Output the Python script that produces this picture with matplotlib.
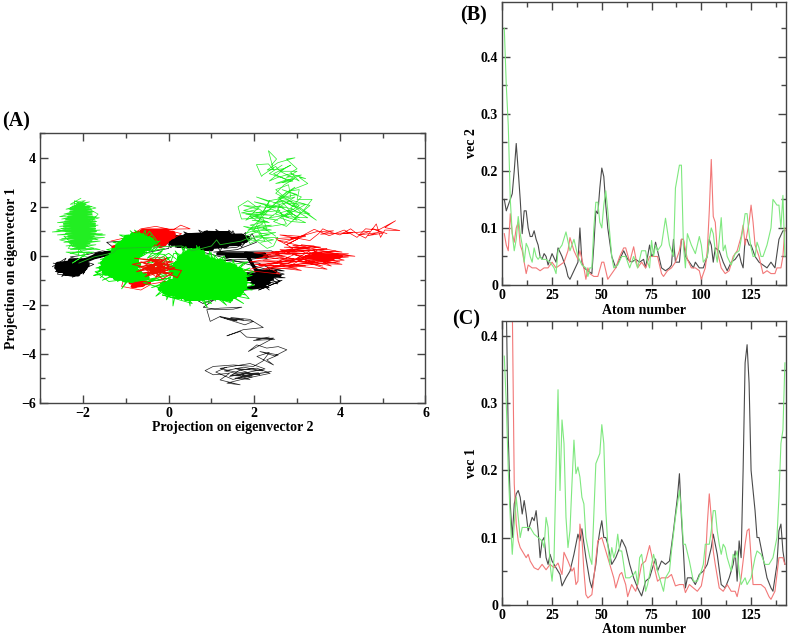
import numpy as np
import matplotlib
matplotlib.use('Agg')
import matplotlib.pyplot as plt
from matplotlib.ticker import MultipleLocator

plt.rcParams['font.family'] = ['Liberation Serif', 'DejaVu Serif']
plt.rcParams['font.weight'] = 'bold'
plt.rcParams['axes.labelweight'] = 'bold'

# panel A, projections (x = eigenvector 2, y = eigenvector 1)
black_core = [[-2.3,-.2],[-1.95,-.22],[-2.6,-.35],[-1.9,-.38],[-2.62,-.48],[-1.95,-.5],[-2.58,-.6],[-2.02,-.62],[-2.42,-.72],[-2.12,-.75],
              [-1.95,-.2],[-1.75,-.05],[-1.4,.1],[-1.7,.02],[-1.25,.12]]
black_core_top = [[.85,.92],[1.4,.9],[.4,.82],[1.72,.8],[.15,.72],[1.85,.72],[.02,.62],[1.8,.62],[.05,.52],[1.65,.5],[.2,.42],[1.35,.42],[.6,.32],[1.0,.28]]
black_core_right = [[1.15,.08],[2.25,.06],[1.35,-.02],[2.3,-.04],[1.8,.1],
                    [2.05,-.62],[2.5,-.65],[1.85,-.8],[2.6,-.8],[1.82,-.95],[2.42,-.95],[1.95,-1.1],[2.35,-1.1],[2.05,-1.22],[2.25,-1.25],
                    [.6,-1.6],[.95,-1.65],[.7,-1.5]]
black_thin = [[-2.72,-.45],[-2.4,-.1],[-2.6,-.75],[-2.2,-.85],[-2,-.55],[-1.75,-.35],[-2.3,-.05],[-1.9,.05],[-1.55,.2],[-1.1,.08],
              [-1.45,.55],[-.95,.62],[-.7,.3],[-.6,.1],[0,.3],[.05,.7],[.5,.92],[.15,.35],[.9,1.03],[1.2,.2],[1.5,1.02],[1.7,.35],
              [1.95,.9],[2.05,.55],[1.6,.25],[1.05,.15],[2.4,.2],[2.6,.02],[1.9,-.15],[1.2,-.18],[2.1,-.3],[2.35,-.5],[2.7,-.62],
              [2.2,-.6],[2.6,-1.05],[2.1,-1.4],[2.65,-1.0],[1.75,-1.3],[2.35,-1.3],[1.75,-.85],[2.3,-.6],[1.7,-.7],[1.3,-1.5],
              [.9,-1.8],[.55,-1.75],[.4,-1.55],[.8,-1.95],[1.1,-1.75],[.81,-2.1]]
black_fringe = [[-2.7,-.3],[-2.2,-.5],[-2.65,-.65],[-2.3,-.3],[-2.5,-.85],[-2.1,-.4],[-2.25,-.88],[-1.95,-.6],[-2,-.75],[-1.85,-.3],[-2.15,-.1],[-1.8,-.15],
                [.1,.88],[.6,.6],[.35,.98],[.9,.6],[.7,1.05],[1.2,.6],[1.1,1.08],[1.5,.6],[1.4,1.05],[1.75,.6],[1.8,.95],[1.5,.5],[1.95,.7],[1.6,.35],[1.3,.3],[1,.6],[.8,.22],[.5,.6],[.35,.25],[.2,.6],[.05,.33],[-.05,.55],
                [2.7,-.75],[2.2,-.9],[2.72,-.9],[2.3,-.8],[2.55,-1.15],[2.1,-1],[2.35,-1.4],[2.05,-1],[1.9,-1.3],[2.2,-1.1],[1.72,-1.1],[2.1,-.8],[1.75,-.7],[2.2,-.7],[2.0,-.5],[2.5,-.75],[2.3,-.48],[2.65,-.6]]
black_tail = [[.81,-2.1],[1.12,-2.2],[1.51,-2.18],[1.71,-2.1],[1.2,-2.14],[.89,-2.2],[.97,-2.68],[1.2,-2.48],[1.51,-2.59],
              [1.98,-2.68],[1.78,-2.82],[1.2,-2.5],[1.6,-2.66],[1.3,-2.55],[1.75,-2.62],[1.45,-2.52],[1.9,-2.6],[2.21,-2.93],[1.74,-3.02],[1.36,-3.27],[1.67,-3.09],[1.82,-3.32],
              [2.21,-3.37],[2.48,-3.41],[1.98,-3.46],[2.35,-3.32],[2.05,-3.4],[2.45,-3.36],[1.86,-3.91],[2.06,-3.64],[2.29,-3.77],[2.56,-3.71],[2.76,-3.84],[2.48,-4.09],
              [2.13,-3.91],[2.56,-4.05],[2.29,-4.25],[2.45,-4.46],[2.06,-4.11],[2.35,-3.95],[2.2,-4.3],[1.98,-4.52],[1.51,-4.46],[1.04,-4.52],[.85,-4.69],
              [1.04,-4.86],[1.42,-4.8],[1.2,-5.07],[1.67,-5.27],[1.36,-5.2],[1.82,-5],[2.37,-4.8],[2.06,-4.59],[1.67,-4.66],[1.42,-4.93],
              [1.82,-4.8],[2.13,-4.86],[1.51,-4.73],[1.2,-4.6],[1.9,-4.4],[2.25,-4.62],[1.6,-4.85],[1.9,-5.05],[1.55,-5.0],[2.4,-4.72],
              [1.7,-4.92],[2.1,-4.78],[1.45,-4.88],[1.95,-4.95],[1.3,-4.7],[1.75,-4.55],[2.2,-4.7],[1.55,-4.6],[2.0,-4.85],[1.5,-5.05],[1.1,-4.75],[1.35,-4.55]]

red_core = [[-.6,1.0],[-.05,1.0],[-.75,.9],[.1,.9],[-.8,.8],[.1,.8],[-.7,.7],[0,.7],[-.6,.6],[-.05,.6],[-.4,.5],[-.1,.5],
            [-.2,.42]]
red_core_low = [[-.9,-1.1],[-.6,-1.2],[-.85,-1.25],[-.45,-1.1],[-.8,-1.05]]
red_core_side = [[-1.15,.42],[-1.3,.35],[-1.2,.25]]
red_right_core = [[3.3,-.1],[4,-.08],[3.2,-.02],[4.05,-.02],[3.4,.05],[3.95,.06],[3.5,-.15],[3.85,-.16],[3.3,.1]]
red_speck = [[-.6,-.55],[-.1,-.3],[-.5,-.75],[.05,-.55],[-.35,-.3],[-.05,-.75],[-.55,-.4],[.02,-.35],[-.3,-.9],[-.15,-.15],[-.45,-.15],[-.05,-.5],
             [-.65,-.25],[-.2,-.6],[-.6,-.7],[.1,-.7],[-.15,-.95],[-.4,-.5],[-.05,-.1],[-.5,-.6],[.03,-.45],[-.3,-.65],[-.7,-.45],[.1,-.25],
             [-.8,-.1],[-.2,-.25],[-.75,-.65],[-.1,-.42],[-.55,-.85],[.15,-.5],[-.4,-.2],[-.85,-.35],[-.1,-.65],[.2,-.9],[.3,-.6],[-.25,-.45]]
red_thin = [[-1.35,.6],[-.9,.78],[-.65,1.1],[-.3,1.2],[.1,1.05],[.28,1.25],[.5,1.1],[-.1,1.08],[.3,.9],[.05,.65],[-.4,.35],[-.75,.5],
            [-1,.65],[-.5,.95],[-.85,.95],[-1.1,.2],[-1.3,.35],
            [-1.05,-.95],[-1.1,-1.25],[-.65,-1.4],[-.4,-1.15],[-.05,-1.05],[-.5,-.95],[-.9,-1.02],[-.25,-.6],[.1,-.4],[-.45,-.1],[-.1,-.05],
            [.03,-.55],[-.6,-.5],[-.3,-.85],
            [1.85,-.6],[2.6,-.75],[2.3,-.45],[3.1,-.6],[2.6,-.35],[3.7,-.55],[3.3,-.3],[4.05,-.35],[3.5,-.15],[4.2,-.05],[3.6,.05],[4.35,-.02],
            [3.5,.2],[4.05,.15],[3.1,.45],[3.55,.35],[2.7,.35],[3.3,.3],[2.4,.15],[3,.18],[2,.12],[2.7,-.05],[1.9,-.25],[3,-.25],[2.2,-.02],[2.9,.3],
            [2.5,.7],[3.2,.78],[2.6,.85],[3.3,.62],[3.5,.9],[3.6,1.1],[3.8,.95],[4,.85],[4.25,1.1],[4.4,.9],[4.6,.72],[4.7,.95],[4.85,1.3],
            [4.95,.75],[5.05,1.05],[5.4,1.03],[5.05,1.15],[5.3,1.43],[4.9,1.05],[4.6,1.1],[4.4,.75],[4.1,1.05],[3.75,.82],[3.4,1.08],[3.1,.8],[2.7,.55]]
red_right = [[1.9,-.55],[2.9,-.15],[2.1,-.4],[3.2,-.42],[2.2,-.2],[3.4,-.25],[2.4,-.48],[3.8,-.2],[2.6,-.1],[3.6,-.42],[2.5,.05],[3.5,.25],[2.8,-.45],[4,-.25],
             [2.9,.05],[3.9,.2],[3,-.1],[3.8,-.42],[3.1,.2],[3.7,.28],[2.7,.15],[3.4,.4],[2.9,.42],[3.6,.1],[2.3,.1],[3.2,.35],[2.05,-.12],[3,.1],[2.5,-.28],[3.4,-.05],
             [2.2,-.55],[3,-.5],[2,-.35],[2.8,-.3],[3.3,.2],[2.6,.25],[3.1,-.05],[3.9,-.3],[3.2,-.2],[4.1,-.18],[3.4,.12],[4.2,.08],[3.6,-.08],[4.05,.02],
             [2.55,.62],[3.05,.72],[2.75,.45],[3.2,.85],[2.85,.68],[3.45,.98],[3.85,1.02],[3.55,.88],[4.3,.95],[4.05,.9],[4.7,1.0],[4.45,.85],[4.9,.95],[4.65,.82],[5,.92],[4.75,1.12],[5.1,.9]]

green_core = [[-.85,.85],[-.6,.8],[-1,.75],[-.5,.7],[-1.05,.6],[-.4,.65],[-1.15,.5],[-.35,.55],[-1.2,.4],[-.4,.45],[-1.2,.3],[-.45,.3],[-1.3,.2],
              [-.6,.2],[-1.3,.1],[-.65,.05],[-1.35,0],[-.7,0],[-1.45,-.1],[-.75,-.15],[-1.5,-.2],[-.75,-.25],[-1.55,-.3],[-.7,-.35],[-1.5,-.4],[-.75,-.45],[-1.58,-.5],[-.8,-.55],
              [-1.5,-.6],[-.7,-.65],[-1.5,-.7],[-.65,-.75],[-1.35,-.8],[-.55,-.8],[-1.25,-.9],[-.5,-.9],[-1.05,-.98],[-.85,-1]]
green_core_mid = [[.5,.2],[.7,.2],[.4,.1],[.8,.12],[.35,.02],[.8,0],[.25,-.08],[.9,-.06],[.25,-.18],[1.05,-.18],[.2,-.28],[1.25,-.25],[.15,-.35],[1.45,-.38],
                  [.1,-.48],[1.55,-.45],[.05,-.55],[1.68,-.58],[.1,-.68],[1.7,-.65],[.15,-.75],[1.78,-.75],[.15,-.88],[1.75,-.85],[.15,-.95],[1.78,-.98],[.02,-1.05],[1.75,-1.05],
                  [-.1,-1.18],[1.78,-1.15],[-.15,-1.25],[1.78,-1.28],[-.2,-1.35],[1.72,-1.35],[-.1,-1.48],[1.7,-1.45],[0,-1.55],[1.65,-1.58],[.2,-1.65],[1.55,-1.65],
                  [.4,-1.75],[.8,-1.72],[.95,-1.65],[1.45,-1.78]]
green_left_core = [[-2.15,2.1],[-1.95,2.1],[-2.25,2],[-1.85,2],[-2.3,1.9],[-1.82,1.9],[-2.3,1.8],[-1.8,1.8],[-2.35,1.7],[-1.8,1.7],[-2.35,1.6],[-1.78,1.6],[-2.4,1.5],[-1.75,1.5],
                   [-2.42,1.4],[-1.72,1.4],[-2.45,1.3],[-1.72,1.3],[-2.45,1.2],[-1.72,1.2],[-2.42,1.1],[-1.72,1.1],[-2.4,1],[-1.7,1],[-2.4,.9],[-1.72,.9],[-2.35,.8],[-1.75,.8],
                   [-2.35,.7],[-1.78,.7],[-2.3,.6],[-1.8,.6],[-2.3,.5],[-1.85,.5],[-2.25,.4],[-1.9,.4],[-2.2,.3],[-1.95,.3]]
green_left = [[-2.05,2.35],[-2.3,2.1],[-1.85,2.2],[-2.4,1.9],[-1.8,2],[-2.45,1.7],[-1.75,1.8],[-2.5,1.5],[-1.7,1.6],[-2.6,1.35],[-1.68,1.4],
              [-2.55,1.2],[-1.65,1.25],[-2.72,.97],[-1.6,1.05],[-2.6,.85],[-1.55,.9],[-2.5,.7],[-1.5,.75],[-2.45,.55],[-1.6,.6],[-2.4,.4],[-1.7,.45],
              [-2.3,.25],[-1.75,.3],[-2.3,.1],[-1.85,.15],[-2.25,-.3],[-1.95,.05],[-2.45,.8],[-1.65,.65],[-2.5,1.1],[-1.75,1.2],[-2.35,1.6],[-1.85,1.45],
              [-2.3,1.95],[-1.95,2.25],[-2.15,2.2],[-1.7,1.95],[-2.55,1.6],[-1.62,1.55],[-2.62,1.05],[-1.48,.85],[-2.55,.65],[-1.6,.25],[-2.35,.3],[-1.65,1.7],[-2.2,2.25],
              [-2.1,.0],[-1.75,.15],[-2.4,.15],[-1.9,-.05]]
green_mid = [[-1.75,-.8],[-1.2,-.5],[-1.7,-.5],[-1.1,-.2],[-1.65,-.3],[-1,-.4],[-1.5,-.1],[-.9,-.1],[-1.4,.1],[-.8,.2],[-1.3,.3],[-.7,.4],[-1.2,.5],[-.7,.7],[-1.1,.7],[-.6,.3],
             [-.95,.85],[-.6,.5],[-.9,1.02],[-.6,.6],[-.7,1.0],[-.5,.5],[-.55,1.05],[-.7,.5],[-.4,.85],[-.8,.3],[-.35,.6],[-.6,0],[-.2,.45],[-.5,-.1],[-.15,.2],[-.4,-.3],
             [0,.1],[.3,-.3],[.15,.2],[.5,-.5],[.3,.35],[.6,-.2],[.5,.3],[.7,-.4],[.65,.42],[.9,-.5],[.8,.25],[1,-.6],[.95,.2],[1.2,-.7],[1.05,.05],[1.4,-.6],[1.25,-.1],[1.5,-.8],
             [1.5,-.15],[1.6,-.7],[1.75,-.3],[1.4,-.8],[1.9,-.5],[1.5,-.9],[1.95,-.8],[1.4,-1.1],[1.9,-1.1],[1.5,-1.2],[1.95,-1.4],[1.3,-1.3],[1.8,-1.6],[1.2,-1.4],[1.75,-1.95],[1.1,-1.2],
             [1.5,-1.75],[1,-1.3],[1.35,-2.02],[.9,-1.4],[1.1,-1.85],[.7,-1.3],[.9,-2.1],[.6,-1.4],[.7,-1.85],[.5,-1.2],[.5,-2.05],[.4,-1.3],[.3,-1.8],[.2,-1.2],[.1,-2.05],[.1,-1.3],
             [-.05,-1.8],[0,-1.1],[-.3,-1.65],[.1,-1.2],[-.2,-1.45],[.3,-1],[-.4,-1.3],[.2,-.9],[-.2,-1.15],[.15,-.7],[-.5,-1.05],[-.3,-.9],[-.9,-1.1],[-.8,-.7],[-1.1,-1.35],[-.9,-.8],[-1.2,-1.05],[-1,-.6],[-1.55,-1.0],[-1.2,-.7],[-1.75,-.8]]
green_fill = [[-1.6,-.9],[-1.3,-.4],[-1.68,-.7],[-1.25,-.1],[-1.6,-.15],[-1.1,.1],[-1.45,.25],[-1,.4],[-1.3,.55],[-.85,.6],[-1.15,.85],[-.7,.8],[-.8,1.05],[-.55,.75],[-.45,1],[-.25,.55],
              [-.4,.2],[-.1,.3],[-.5,-.3],[.05,-.05],[-.35,-.55],[.1,-.3],[-.25,-.8],[.2,-.55],[-.45,-1.05],[.05,-.9],[-.6,-1.1],[-.3,-1.25],[.2,-1.75],[-.15,-1.6],[.55,-1.95],[.3,-1.5],
              [1,-1.95],[.8,-1.55],[1.45,-1.92],[1.3,-1.55],[1.88,-1.75],[1.65,-1.3],[2,-1.2],[1.7,-.95],[1.98,-.65],[1.65,-.5],[1.85,-.25],[1.35,-.4],[1.3,-.02],[1,-.3],[1,.12],[.7,-.15],
              [.72,.38],[.5,.05],[.4,.38],[.3,.05],[.12,.1],[.05,-.25],[-.1,.05],[-.65,.15],[-.2,.6],[-.9,.45],[-1.4,-.35],[-.9,-.95],[-1.4,-1.05],[-1.72,-.65],[-.75,-.25],[-.55,-.95]]
green_link = [[-2.1,-.3],[-1.75,-.05],[-1.3,.12],[-1.2,.3],[-.4,.35],[.3,.4],[.55,.2],[1,.4],[1.12,.65],[1.2,.45],[1.7,.6],[1.9,.75]]
green_top = [[1.9,.8],[2.3,.3],[2.45,.4],[2.55,.75],[2.2,.75],[1.9,.5],[1.8,.8],[2.1,1],[1.75,1.2],[2.3,1.05],[2.2,1.55],[1.7,1.5],[1.62,2],[1.85,2.25],
             [2.2,1.8],[2.35,2.2],[2.05,2.4],[2.6,2.1],[2.5,1.7],[3,1.45],[2.8,1.75],[2.45,1.4],[2.75,1.2],[3.1,1.75],[2.9,2.1],[3.45,1.45],[3.15,1.85],[3.35,2.3],
             [3,2.3],[3.05,2.7],[2.85,2.65],[2.7,2.4],[2.5,2.7],[2.8,2.9],[2.85,2.4],[2.35,2.25],[2.1,1.4],[2,1.05],[1.8,.9],
             [2.75,2.6],[3.25,2.95],[3.05,3.2],[3.2,3.15],[2.85,3.35],[2.55,3.2],[2.35,3.05],[2.7,3.55],[2.3,3.5],[2.55,3.8],[2.95,4],[2.75,3.95],[3,3.55],
             [2.85,3.4],[3.05,3.05],[2.6,3.45],[2.5,3.65],[2.2,3.3],[2.17,3.24],[2.05,3.72],[2.33,3.75],[2.45,3.5],[2.33,4.29],[2.52,3.95],[2.4,3.7]]
green_top2 = [[2.4,.5],[2.1,.9],[2.5,.95],[1.85,.65],[2.25,.6],[2.05,1.2],[2.4,1.25],[1.85,1.05],[2.2,1.3],[1.9,1.6],[2.3,1.7],[1.75,1.85],[2.15,2.05],[1.8,1.45],[2.4,1.9],
              [2.05,1.75],[2.6,1.85],[2.35,1.55],[2.9,1.7],[2.6,2.3],[3,1.95],[2.75,2.15],[3.2,2.1],[2.7,1.6],[3.25,1.55],[2.85,1.95],[3.1,2.4],[2.65,2.7],[3,2.5],[2.55,2.35],
              [2.95,2.8],[2.4,2.0],[2.9,2.25],[3.3,2.05],[2.95,1.55],[3.2,1.35],[2.85,1.4],[2.6,1.55],[3.05,2.05],[2.5,2.55],[2.7,2.9],[2.95,3.15],[2.65,3.0],[3.1,3.3],[2.75,3.2],
              [3,3.45],[2.6,3.45],[2.85,3.7],[2.45,3.35],[2.75,3.1],[2.5,2.95],[2.9,3.05],[2.35,3.35],[2.65,3.7]]
green_top3 = [[2.15,.55],[2.45,.65],[2.0,.8],[2.35,.85],[1.95,1.0],[2.4,1.05],[1.9,1.25],[2.3,1.4],[1.95,1.45],[2.35,1.35],[2.0,1.6],[2.55,1.45],[1.8,1.7],[2.45,1.65],[1.7,1.75],[2.1,1.9],[1.75,2.05],
              [2.5,1.95],[2.0,2.2],[2.7,1.95],[2.25,2.05],[2.8,1.55],[2.6,1.75],[2.9,1.9],[2.55,2.05],[3.05,1.55],[2.75,1.85],[3.3,1.7],[2.8,2.25],[2.45,2.15],[2.95,2.4],[2.55,1.95],[2.75,1.3],[2.2,1.15],[2.5,.8]]

# panel B
atom_b_green = [1,2,3,4,5,6,7,8,9,10,11,12,13,14,15,16,17,18,19,20,22,24,26,27,28,30,32,34,36,38,40,42,43,44,45,46,47,48,49,50,51,52,53,54,55,56,58,60,62,64,66,68,70,72,73,74,75,76,77,78,80,82,84,85,86,87,88,89,90,91,92,93,95,97,98,99,100,101,103,104,105,106,107,108,110,111,112,113,115,117,119,121,122,123,124,125,126,127,128,129,130,131,133,135,136,137,138,139,140,141,142]
vec2_green = [.45,.35,.28,.15,.09,.06,.08,.12,.09,.07,.04,.073,.065,.05,.04,.065,.05,.045,.05,.045,.045,.04,.03,.02,.06,.07,.093,.06,.08,.05,.035,.03,.015,.03,.03,.10,.145,.145,.11,.10,.14,.165,.13,.09,.05,.03,.035,.05,.05,.03,.05,.03,.06,.06,.04,.03,.078,.05,.07,.06,.07,.117,.07,.06,.05,.17,.19,.21,.21,.07,.03,.09,.07,.055,.07,.085,.07,.04,.05,.08,.10,.09,.06,.04,.118,.06,.07,.05,.035,.055,.06,.10,.125,.125,.09,.065,.05,.05,.075,.065,.05,.05,.07,.10,.15,.145,.14,.14,.10,.157,.05]
atom_b_black = [1,2,3,4,5,6,7,8,9,10,11,12,13,14,15,16,17,18,19,20,21,22,23,25,27,28,30,32,33,34,36,38,39,40,41,43,45,46,47,48,49,50,51,52,53,55,57,59,61,63,65,67,69,71,72,74,75,76,77,78,80,82,84,85,86,87,89,90,91,92,94,96,97,99,101,103,104,105,106,107,109,111,113,115,117,119,120,121,122,123,124,125,127,129,131,133,135,137,139,141,142]
vec2_black = [.15,.13,.14,.15,.16,.20,.248,.20,.15,.09,.13,.13,.10,.085,.085,.095,.08,.07,.05,.045,.055,.05,.035,.055,.04,.065,.05,.03,.015,.01,.025,.04,.10,.04,.03,.025,.02,.07,.13,.125,.17,.205,.19,.14,.10,.05,.03,.045,.06,.045,.04,.045,.04,.045,.03,.07,.05,.055,.075,.06,.03,.025,.03,.035,.08,.04,.04,.08,.08,.05,.04,.03,.04,.03,.03,.05,.08,.07,.04,.065,.06,.04,.025,.04,.045,.055,.04,.03,.08,.08,.07,.07,.05,.04,.035,.03,.04,.03,.08,.095,.095]
atom_b_red = [1,2,3,4,5,6,7,8,9,10,11,12,13,15,17,19,21,23,25,27,29,31,33,34,36,38,39,41,42,43,44,46,48,50,51,53,55,57,59,61,62,64,66,68,70,72,74,76,78,80,81,83,85,87,89,90,91,93,95,97,99,100,102,103,104,105,106,107,108,110,112,114,116,118,120,121,122,123,124,125,126,127,129,131,133,135,137,138,140,141,142]
vec2_red = [.09,.07,.06,.125,.09,.075,.10,.11,.07,.06,.04,.02,.035,.03,.03,.025,.03,.03,.04,.03,.035,.04,.06,.083,.06,.045,.06,.03,.01,.03,.02,.015,.015,.04,.04,.01,.02,.03,.05,.065,.065,.04,.067,.03,.04,.03,.05,.05,.05,.02,.015,.025,.03,.04,.06,.08,.08,.045,.03,.03,.025,.01,.03,.06,.13,.22,.12,.11,.06,.03,.02,.025,.05,.06,.085,.105,.07,.09,.11,.14,.11,.07,.05,.02,.025,.02,.02,.03,.03,.05,.1]

# panel C
atom_c_green = [1,2,3,4,5,6,7,8,9,10,12,14,16,18,20,21,22,23,24,25,26,27,28,29,30,31,32,33,34,35,36,37,38,39,40,41,42,44,45,47,49,50,51,52,53,54,55,56,57,58,59,60,62,64,66,67,68,69,70,71,72,73,75,76,78,80,81,82,84,85,87,89,90,91,92,94,96,98,100,101,102,104,105,106,107,108,109,110,111,112,113,115,116,117,118,119,120,122,123,125,127,128,130,132,134,136,138,139,140,141,142]
vec1_green = [.37,.3,.2,.13,.075,.12,.16,.13,.10,.115,.115,.115,.105,.10,.095,.085,.13,.115,.06,.035,.07,.20,.32,.17,.275,.24,.13,.085,.11,.18,.245,.195,.205,.19,.16,.15,.10,.07,.06,.21,.225,.268,.24,.14,.09,.06,.085,.07,.08,.105,.08,.08,.04,.04,.045,.05,.03,.07,.075,.055,.02,.03,.06,.075,.05,.03,.02,.04,.05,.08,.13,.17,.14,.09,.09,.065,.035,.035,.05,.06,.09,.09,.11,.14,.14,.11,.09,.075,.09,.085,.07,.05,.075,.07,.08,.05,.03,.04,.03,.04,.07,.08,.075,.06,.06,.07,.10,.16,.24,.26,.36]
atom_c_black = [1,2,3,4,5,6,7,8,9,10,11,12,13,14,15,16,17,18,19,20,21,22,23,24,25,27,29,30,32,34,36,38,39,40,42,44,45,47,48,49,50,51,52,53,55,57,59,60,62,64,66,68,70,72,74,76,77,78,80,82,84,86,88,89,90,91,92,93,95,97,99,101,103,105,106,108,110,112,114,116,117,118,119,120,121,122,123,124,125,126,127,128,129,131,133,135,136,138,139,140,141,142]
vec1_black = [.45,.45,.25,.15,.10,.15,.165,.17,.16,.135,.155,.135,.11,.12,.13,.125,.14,.11,.07,.095,.10,.07,.06,.075,.065,.055,.045,.028,.04,.05,.075,.105,.095,.113,.07,.035,.025,.06,.09,.11,.125,.10,.10,.09,.06,.07,.085,.097,.085,.06,.04,.025,.013,.035,.04,.06,.068,.05,.065,.06,.065,.11,.16,.195,.13,.08,.025,.04,.04,.03,.045,.05,.06,.085,.105,.075,.03,.025,.04,.06,.08,.035,.095,.07,.20,.36,.387,.33,.20,.17,.14,.10,.10,.07,.04,.025,.02,.06,.11,.12,.08,.06]
atom_c_red = [1,2,3,4,5,6,7,8,9,10,11,12,13,14,16,18,20,22,24,26,28,30,31,33,35,36,37,38,39,40,41,42,43,45,46,48,50,52,54,56,57,59,60,62,63,65,67,68,70,72,74,76,78,80,83,85,87,89,91,92,94,96,98,100,102,103,104,105,106,107,109,111,113,115,117,118,120,122,123,124,125,126,128,130,132,134,135,137,139,141,142]
vec1_red = [.6,.6,.6,.6,.45,.18,.12,.095,.085,.08,.075,.07,.075,.065,.055,.052,.06,.052,.06,.055,.062,.045,.078,.065,.05,.055,.03,.035,.12,.10,.05,.015,.01,.015,.04,.095,.10,.08,.06,.04,.025,.045,.048,.03,.012,.03,.02,.03,.06,.065,.088,.06,.035,.04,.04,.045,.028,.03,.03,.018,.03,.025,.02,.028,.06,.12,.165,.13,.08,.06,.025,.02,.03,.02,.02,.012,.04,.09,.11,.113,.07,.03,.03,.03,.025,.012,.008,.02,.07,.07,.06]

W, H = 789, 636
LINE_BLACK, LINE_RED, LINE_GREEN = '#4a4a4a', '#f27878', '#7fe87f'
FRAME = '#444444'


def make_axes(left, top, right, bottom):
    ax = fig.add_axes([left / W, 1 - bottom / H, (right - left) / W, (bottom - top) / H])
    for side in ax.spines.values():
        side.set_color(FRAME)
        side.set_linewidth(1.0)
    ax.tick_params(which='both', direction='in', top=True, right=True, color=FRAME, labelsize=10)
    ax.tick_params(which='major', length=6, width=1.0, pad=3)
    ax.tick_params(which='minor', length=3.5, width=1.0)
    return ax


def trace(ax, points, color, lw):
    xy = np.array(points)
    ax.plot(xy[:, 0], xy[:, 1], color=color, lw=lw, solid_joinstyle='round', solid_capstyle='round')


fig = plt.figure(figsize=(W / 100, H / 100), dpi=100)

# (A) projection plot
ax_a = make_axes(40.3, 133.3, 425.5, 402.7)
trace(ax_a, black_core, 'black', 3.5)
trace(ax_a, black_core_top, 'black', 3.5)
trace(ax_a, black_core_right, 'black', 2.5)
trace(ax_a, black_thin, 'black', 0.5)
trace(ax_a, black_fringe, 'black', 0.5)
trace(ax_a, black_tail, '#222222', 0.5)
trace(ax_a, red_core, '#ff0000', 4)
trace(ax_a, red_core_low, '#ff0000', 2.5)
trace(ax_a, red_core_side, '#ff0000', 2.5)
trace(ax_a, red_right_core, '#ff0000', 1.6)
trace(ax_a, red_right, '#ff0000', 0.5)
trace(ax_a, red_thin, '#ff0000', 0.5)
trace(ax_a, green_core, '#00ee00', 3.6)
trace(ax_a, green_core_mid, '#00ee00', 3.6)
trace(ax_a, green_left_core, '#22ee22', 1.4)
trace(ax_a, green_left, '#22ee22', 0.5)
trace(ax_a, green_mid, '#00ee00', 0.6)
trace(ax_a, green_fill, '#00ee00', 0.6)
trace(ax_a, green_link, '#22bb22', 0.6)
trace(ax_a, green_top, '#22ee22', 0.5)
trace(ax_a, green_top2, '#22ee22', 0.5)
trace(ax_a, green_top3, '#22ee22', 0.5)
trace(ax_a, red_speck, '#ee1100', 0.7)
ax_a.set_xlim(-3, 6)
ax_a.set_ylim(-6, 5)
ax_a.set_xticks(range(-2, 7, 2))
ax_a.set_yticks(range(-6, 5, 2))
ax_a.xaxis.set_minor_locator(MultipleLocator(1))
ax_a.yaxis.set_minor_locator(MultipleLocator(1))
ax_a.set_xlabel('Projection on eigenvector 2', fontsize=10, labelpad=1)
ax_a.set_ylabel('Projection on eigenvector 1', fontsize=10)
ax_a.yaxis.set_label_coords(-0.057, 0.5)

# (B) vec 2
ax_b = make_axes(502.3, 1.7, 786.3, 285)
ax_b.plot(atom_b_black, vec2_black, color=LINE_BLACK, lw=0.8)
ax_b.plot(atom_b_red, vec2_red, color=LINE_RED, lw=0.8)
ax_b.plot(atom_b_green, vec2_green, color=LINE_GREEN, lw=0.8)
ax_b.set_xlim(0, 142.7)
ax_b.set_ylim(0, 0.4965)
ax_b.set_yticks([0, 0.1, 0.2, 0.3, 0.4], ['0', '0.1', '0.2', '0.3', '0.4'])
ax_b.set_ylabel('vec 2', fontsize=10, labelpad=2)

# (C) vec 1
ax_c = make_axes(502.3, 321, 786.3, 604.7)
ax_c.plot(atom_c_black, vec1_black, color=LINE_BLACK, lw=0.8)
ax_c.plot(atom_c_red, vec1_red, color=LINE_RED, lw=0.8)
ax_c.plot(atom_c_green, vec1_green, color=LINE_GREEN, lw=0.8)
ax_c.set_xlim(0, 142.7)
ax_c.set_ylim(0, 0.4223)
ax_c.set_yticks([0, 0.1, 0.2, 0.3, 0.4], ['0', '0.1', '0.2', '0.3', '0.4'])
ax_c.set_ylabel('vec 1', fontsize=10, labelpad=2)

for ax in (ax_b, ax_c):
    ax.set_xticks(range(0, 126, 25))
    ax.xaxis.set_minor_locator(MultipleLocator(12.5))
    ax.yaxis.set_minor_locator(MultipleLocator(0.05))
    ax.set_xlabel('Atom number', fontsize=10, labelpad=1)

fig.text(2 / W, 1 - 126 / H, '(A)', fontsize=14.5)
fig.text(460 / W, 1 - 20 / H, '(B)', fontsize=14.5)
fig.text(452 / W, 1 - 324 / H, '(C)', fontsize=14.5)

fig.savefig('out.png', dpi=100)
